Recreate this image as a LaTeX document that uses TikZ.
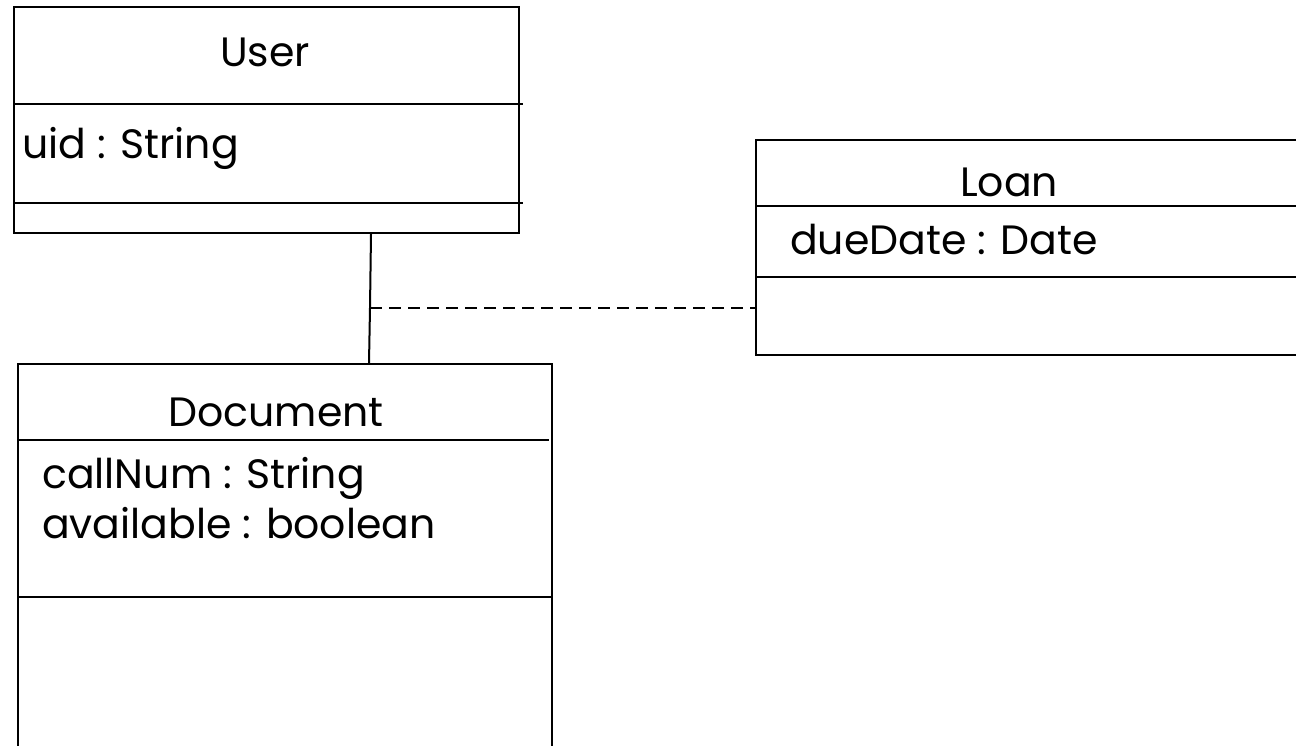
\documentclass[tikz,border=0pt]{standalone}
\usepackage{fontspec}
\setmainfont{Poppins}
\usetikzlibrary{positioning, calc}

\begin{document}
\begin{tikzpicture}[
  x=1pt, y=-1pt,
  font=\fontsize{41}{49}\selectfont,
  classbox/.style={draw, line width=2pt, inner sep=0pt, anchor=north west},
  divider/.style={line width=2pt},
  assoc/.style={line width=2pt},
  linkline/.style={line width=2pt, dash pattern=on 12pt off 7pt},
  txt/.style={anchor=base west, inner sep=0pt},
  title/.style={anchor=base, inner sep=0pt}
]
  \useasboundingbox (0,0) rectangle (1296,745);
  \clip (0,0) rectangle (1296,745);

  % classes
  \node[classbox, minimum width=505pt, minimum height=226pt] (user) at (13,6) {};
  \node[classbox, minimum width=560pt, minimum height=215pt] (loan) at (755,139) {};
  \node[classbox, minimum width=534pt, minimum height=400pt] (doc) at (17,363) {};

  % compartments
  \draw[divider] (user.west |- 0,104) -- (523,104);
  \draw[divider] (user.west |- 0,203) -- (523,203);
  \draw[divider] (loan.west |- 0,206) -- (1300,206);
  \draw[divider] (loan.west |- 0,277) -- (1300,277);
  \draw[divider] (doc.west |- 0,440) -- (549,440);
  \draw[divider] (doc.west |- 0,597) -- (551,597);

  % labels
  \node[title] (usertitle) at (265,66) {User};
  \node[txt] (uidattr) at (22,158) {uid : String};
  \node[title] (loantitle) at (1009,196) {Loan};
  \node[txt] (dueattr) at (790,254) {dueDate : Date};
  \node[title] (doctitle) at (276,426) {Document};
  \node[txt] (callattr) at (42,488) {callNum : String};
  \node[txt] (availattr) at (42,538) {available : boolean};

  % association with class
  \coordinate (usertop) at (user.south -| 371,0);
  \coordinate (assocmid) at (370,308);
  \draw[assoc] (usertop) -- (assocmid) -- (doc.north -| 369,0);
  \draw[linkline] (assocmid) -- (loan.west |- assocmid);
\end{tikzpicture}
\end{document}
